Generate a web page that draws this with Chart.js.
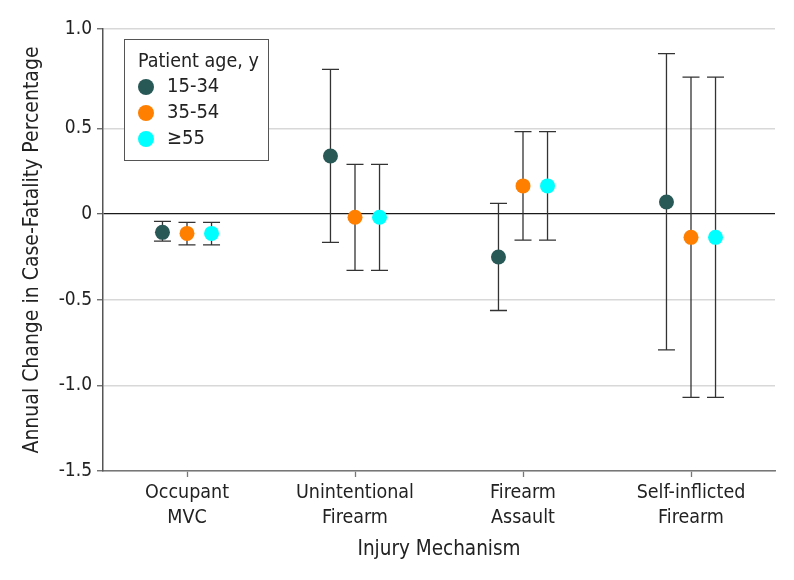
<!DOCTYPE html>
<html><head><meta charset="utf-8">
<script src="https://cdn.jsdelivr.net/npm/chart.js@4.4.0/dist/chart.umd.min.js"></script>
<style>html,body{margin:0;padding:0;background:#fff}</style></head>
<body>
<canvas id="c" width="794" height="580"></canvas>
<script>
const categories = [["Occupant","MVC"],["Unintentional","Firearm"],["Firearm","Assault"],["Self-inflicted","Firearm"]];
const seriesLabels = ["15-34","35-54","\u226555"];
const est1534  = [-0.107, 0.339, -0.251, 0.070];
const low1534  = [-0.158, -0.166, -0.563, -0.793];
const high1534 = [-0.043, 0.844, 0.062, 0.936];
const est3554  = [-0.113, -0.019, 0.164, -0.136];
const low3554  = [-0.180, -0.329, -0.152, -1.070];
const high3554 = [-0.049, 0.290, 0.481, 0.799];
const est55    = [-0.113, -0.019, 0.164, -0.136];
const low55    = [-0.180, -0.329, -0.152, -1.070];
const high55   = [-0.049, 0.290, 0.481, 0.799];
const yTickValues = [-1.5, -1.0, -0.5, 0, 0.5, 1.0];
const yTickLabels = ["-1.5", "-1.0", "-0.5", "0", "0.5", "1.0"];

const series = [
  {label: seriesLabels[0], est: est1534, low: low1534, high: high1534},
  {label: seriesLabels[1], est: est3554, low: low3554, high: high3554},
  {label: seriesLabels[2], est: est55, low: low55, high: high55}
];
const colors = ["#285957", "#ff8000", "#00ffff"];
const DODGE = 0.146;
const Y_TOP = 1.08; // top of drawn axis, labelled as the 1.0 tick in the reference
const FONT = "'DejaVu Sans Condensed', 'Liberation Sans Narrow', sans-serif";
const TXT = "#222";

Chart.defaults.font.family = FONT;
Chart.defaults.font.size = 19;
Chart.defaults.color = TXT;

const errorBars = {
  id: 'errorBars',
  beforeDatasetsDraw(chart) {
    const {ctx, scales: {x, y}} = chart;
    ctx.save();
    ctx.strokeStyle = '#333';
    ctx.lineWidth = 1.3;
    series.forEach((s, j) => {
      categories.forEach((c, i) => {
        const px = x.getPixelForValue(i + DODGE * (j - 1));
        const pl = y.getPixelForValue(s.low[i]);
        const ph = y.getPixelForValue(s.high[i]);
        ctx.beginPath();
        ctx.moveTo(px, pl); ctx.lineTo(px, ph);
        ctx.moveTo(px - 8.5, pl); ctx.lineTo(px + 8.5, pl);
        ctx.moveTo(px - 8.5, ph); ctx.lineTo(px + 8.5, ph);
        ctx.stroke();
      });
    });
    ctx.restore();
  }
};

const boxLegend = {
  id: 'boxLegend',
  afterDraw(chart) {
    const {ctx, chartArea} = chart;
    const L = chartArea.left + 21, T = chartArea.top + 10, W = 144, H = 121;
    ctx.save();
    ctx.fillStyle = '#fff';
    ctx.fillRect(L, T, W, H);
    ctx.strokeStyle = '#555';
    ctx.lineWidth = 1;
    ctx.strokeRect(L + 0.5, T + 0.5, W, H);
    ctx.fillStyle = TXT;
    ctx.font = "19.5px " + FONT;
    ctx.textBaseline = 'middle';
    ctx.textAlign = 'left';
    ctx.fillText("Patient age, y", L + 14, T + 23);
    series.forEach((s, j) => {
      const cy = T + 48 + j * 26;
      ctx.beginPath();
      ctx.fillStyle = colors[j];
      ctx.arc(L + 22, cy, 8, 0, Math.PI * 2);
      ctx.fill();
      ctx.fillStyle = TXT;
      ctx.font = "20px " + FONT;
      ctx.fillText(s.label, L + 43, cy);
    });
    ctx.restore();
  }
};

new Chart(document.getElementById('c'), {
  type: 'scatter',
  data: {
    datasets: series.map((s, j) => ({
      label: s.label,
      data: categories.map((c, i) => ({x: i + DODGE * (j - 1), y: s.est[i]})),
      backgroundColor: colors[j],
      borderWidth: 0,
      pointRadius: 7.5,
      pointHoverRadius: 7.5
    }))
  },
  options: {
    responsive: false,
    animation: false,
    events: [],
    layout: {padding: {top: 29, right: 19, bottom: 0, left: 0}},
    plugins: {legend: {display: false}, tooltip: {enabled: false}},
    scales: {
      x: {
        type: 'linear', min: -0.5, max: 3.5,
        afterBuildTicks: s => { s.ticks = categories.map((c, i) => ({value: i})); },
        afterFit: s => { s.height = 109; },
        ticks: {callback: v => categories[v], autoSkip: false, maxRotation: 0, padding: 3, color: TXT,
                font: {size: 19.5, lineHeight: 1.28}},
        grid: {drawOnChartArea: false, tickLength: 6, color: '#777', tickWidth: 1.3},
        border: {color: '#777', width: 1.5},
        title: {display: true, text: 'Injury Mechanism', color: TXT, font: {size: 20.5}, padding: {top: 4, bottom: 18}}
      },
      y: {
        min: -1.5, max: Y_TOP,
        afterBuildTicks: s => { s.ticks = yTickValues.map(v => ({value: v === 1.0 ? Y_TOP : v})); },
        afterFit: s => { s.width = 103; },
        ticks: {callback: (v, i) => yTickLabels[i], padding: 5, color: TXT, font: {size: 19}},
        grid: {
          color: c => (c.tick && c.tick.value === 0) ? '#1a1a1a' : '#d8d8d8',
          lineWidth: c => (c.tick && c.tick.value === 0) ? 1.3 : 1.5,
          tickColor: '#666', tickLength: 6, tickWidth: 1.3
        },
        border: {color: '#555', width: 1.5},
        title: {display: true, text: 'Annual Change in Case-Fatality Percentage', color: TXT, font: {size: 21}, padding: {top: 20, bottom: 0}}
      }
    }
  },
  plugins: [errorBars, boxLegend]
});
</script>
</body></html>
